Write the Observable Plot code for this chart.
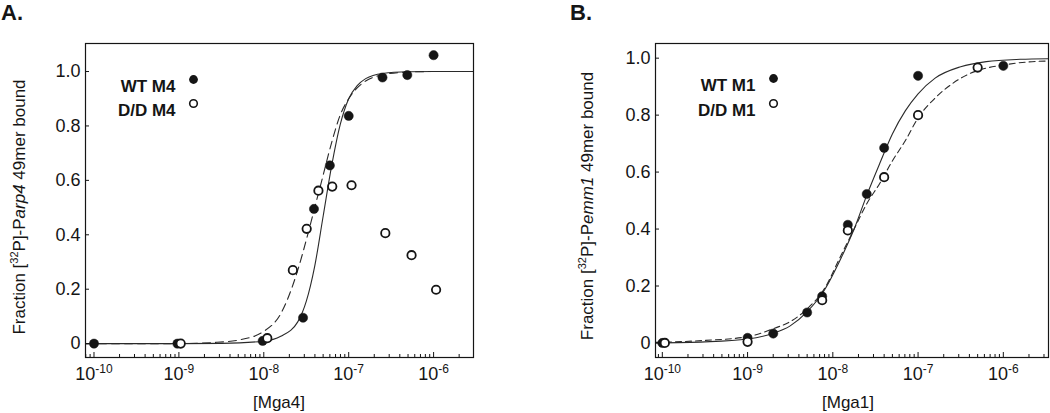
<!DOCTYPE html>
<html><head><meta charset="utf-8">
<script src="https://cdn.jsdelivr.net/npm/d3@7"></script>
<script src="https://cdn.jsdelivr.net/npm/@observablehq/plot@0.6"></script>
<style>
body{margin:0;background:#fff;font-family:"Liberation Sans",Arial,sans-serif;}
#fig{position:relative;width:1050px;height:413px;overflow:hidden;background:#fff;}
.panel{position:absolute;top:0;}
</style></head><body>
<div id="fig"></div>
<script>
// ---------- Panel A data ([Mga4], molar) ----------
const wtA_x = [1e-10, 0.96e-9, 0.97e-8, 2.9e-8, 3.9e-8, 6e-8, 1e-7, 2.5e-7, 4.9e-7, 1e-6];
const wtA_y = [0, 0, 0.01, 0.095, 0.495, 0.655, 0.837, 0.978, 0.987, 1.06];
const ddA_x = [1.05e-9, 1.1e-8, 2.2e-8, 3.2e-8, 4.4e-8, 6.4e-8, 1.08e-7, 2.7e-7, 5.5e-7, 1.07e-6];
const ddA_y = [0, 0.02, 0.27, 0.422, 0.562, 0.577, 0.582, 0.406, 0.325, 0.198];
// fitted curves (log10 concentration, fraction bound)
const solidA_e = [-10.1, -9, -8.5, -8, -7.8, -7.6, -7.5, -7.4, -7.3, -7.2, -7.1, -7.0, -6.9, -6.8, -6.6, -6.3, -6, -5.53];
const solidA_y = [0, 0, 0.001, 0.009, 0.027, 0.08, 0.155, 0.285, 0.47, 0.655, 0.805, 0.9, 0.948, 0.974, 0.993, 0.999, 1, 1];
const dashA_e = [-10.1, -9, -8.6, -8.3, -8, -7.8, -7.6, -7.5, -7.4, -7.3, -7.2, -7.1, -7.0, -6.9, -6.8, -6.6, -6.3, -6, -5.53];
const dashA_y = [0, 0, 0.004, 0.013, 0.045, 0.11, 0.27, 0.38, 0.5, 0.62, 0.74, 0.84, 0.9, 0.94, 0.965, 0.988, 0.998, 1, 1];

// ---------- Panel B data ([Mga1], molar) ----------
const wtB_x = [1e-10, 1e-9, 2e-9, 5e-9, 7.5e-9, 1.5e-8, 2.5e-8, 4e-8, 1e-7, 1e-6];
const wtB_y = [0, 0.018, 0.033, 0.107, 0.164, 0.415, 0.523, 0.685, 0.938, 0.973];
const ddB_x = [1.07e-10, 1e-9, 7.5e-9, 1.5e-8, 4e-8, 1e-7, 5e-7];
const ddB_y = [0, 0.004, 0.15, 0.395, 0.582, 0.80, 0.967];
const solidB_e = [-10.08, -9.5, -9, -8.7, -8.5, -8.3, -8.1, -7.9, -7.75, -7.6, -7.45, -7.3, -7.15, -7.0, -6.8, -6.5, -6.2, -5.8, -5.47];
const solidB_y = [0.0005, 0.004, 0.014, 0.034, 0.06, 0.11, 0.185, 0.30, 0.40, 0.52, 0.63, 0.735, 0.815, 0.875, 0.93, 0.97, 0.988, 0.996, 0.998];
const dashB_e = [-10.08, -9.5, -9, -8.7, -8.5, -8.3, -8.1, -7.9, -7.75, -7.6, -7.45, -7.3, -7.15, -7.0, -6.8, -6.6, -6.4, -6.2, -6.0, -5.7, -5.47];
const dashB_y = [0.002, 0.009, 0.022, 0.05, 0.075, 0.12, 0.19, 0.31, 0.40, 0.49, 0.56, 0.64, 0.71, 0.79, 0.86, 0.91, 0.945, 0.965, 0.976, 0.987, 0.99];

// ---------- ticks & labels ----------
const majorTicks = [1e-10, 1e-9, 1e-8, 1e-7, 1e-6];
const minorMult = [2, 3, 4, 5, 6, 7, 8, 9];
const minorDecades = [1e-11, 1e-10, 1e-9, 1e-8, 1e-7, 1e-6];
const yTicks = [0, 0.2, 0.4, 0.6, 0.8, 1.0];
const legendA = ["WT M4", "D/D M4"];
const legendB = ["WT M1", "D/D M1"];

const INK = "#151515";
const FONT = '"Liberation Sans", Arial, Helvetica, sans-serif';

function zip(xs, ys) { return xs.map((x, i) => ({x, y: ys[i]})); }
function zipE(es, ys) { return es.map((e, i) => ({x: Math.pow(10, e), y: ys[i]})); }

function panel(o) {
  const W = 525, H = 413, mT = 43, mB = 56;
  const plotH = H - mT - mB;
  const minors = [];
  minorDecades.forEach(d => minorMult.forEach(m => {
    const v = m * d;
    if (v > o.xDom[0] && v < o.xDom[1]) minors.push(v);
  }));
  const chart = Plot.plot({
    width: W, height: H,
    marginTop: mT, marginBottom: mB, marginLeft: o.mL, marginRight: o.mR,
    style: {fontFamily: FONT, fontSize: "17px", color: INK, background: "transparent", overflow: "visible"},
    x: {type: "log", domain: o.xDom, label: null},
    y: {domain: o.yDom, label: null},
    marks: [
      Plot.line(zipE(o.solidE, o.solidY), {x: "x", y: "y", stroke: "#2a2a2a", strokeWidth: 1.1, curve: "monotone-x", clip: true}),
      Plot.line(zipE(o.dashE, o.dashY), {x: "x", y: "y", stroke: "#2a2a2a", strokeWidth: 1.1, strokeDasharray: o.dash, curve: "monotone-x", clip: true}),
      Plot.dot(zip(o.wtX, o.wtY), {x: "x", y: "y", r: 4.6, fill: INK, stroke: INK, strokeWidth: 0.5}),
      Plot.dot(zip(o.ddX, o.ddY), {x: "x", y: "y", r: 4.2, fill: "white", stroke: INK, strokeWidth: 1.8}),
      Plot.tickX(majorTicks, {x: d => d, stroke: INK, strokeWidth: 1, insetTop: plotH - 5}),
      Plot.tickX(minors, {x: d => d, stroke: INK, strokeWidth: 1, insetTop: plotH - 3}),
      Plot.tickY(yTicks, {y: d => d, stroke: INK, strokeWidth: 1, insetRight: (W - o.mL - o.mR) - 4}),
      Plot.frame({stroke: INK, strokeWidth: 1.2}),
      Plot.axisX({ticks: majorTicks, tickSize: 0, tickPadding: 10, tickFormat: d => `10^${Math.round(Math.log10(d))}`, fontSize: 18, fill: INK}),
      Plot.axisY({ticks: yTicks, tickSize: 0, tickPadding: 5, tickFormat: d => d === 0 ? "0" : d.toFixed(1), fontSize: 18, fill: INK}),
      Plot.text([o.legend[0]], {frameAnchor: "top-left", dx: o.legTextDx, dy: o.legDy1, text: d => d, textAnchor: "end", fontWeight: "bold", fontSize: 17, fill: INK}),
      Plot.text([o.legend[1]], {frameAnchor: "top-left", dx: o.legTextDx, dy: o.legDy2, text: d => d, textAnchor: "end", fontWeight: "bold", fontSize: 17, fill: INK}),
      Plot.dot([o.legend[0]], {frameAnchor: "top-left", dx: o.legDotDx, dy: o.legDy1, r: 4.4, fill: INK}),
      Plot.dot([o.legend[1]], {frameAnchor: "top-left", dx: o.legDotDx, dy: o.legDy2, r: 3.8, fill: "white", stroke: INK, strokeWidth: 1.6})
    ]
  });
  const svg = d3.select(chart);
  // superscript exponents on x tick labels
  svg.selectAll('g[aria-label="x-axis tick label"] text').each(function() {
    const t = d3.select(this);
    const [b, e] = t.text().split("^");
    t.text(null);
    t.append("tspan").text(b);
    t.append("tspan").attr("dy", -7).attr("font-size", 12).text(e);
  });
  // y-axis title with superscript and italics
  const yl = svg.append("text")
    .attr("transform", `translate(${o.yLabX},${o.yLabY}) rotate(-90)`)
    .attr("text-anchor", "middle").attr("font-size", 17).attr("fill", INK).attr("font-family", FONT);
  yl.append("tspan").text("Fraction [");
  yl.append("tspan").attr("dy", -7).attr("font-size", 11).text("32");
  yl.append("tspan").attr("dy", 7).text("P]-P");
  yl.append("tspan").attr("font-style", "italic").text(o.yItalic);
  yl.append("tspan").text(" 49mer bound");
  // x-axis title
  svg.append("text").attr("x", o.xLabX).attr("y", 408).attr("text-anchor", "middle")
    .attr("font-size", 17).attr("fill", INK).attr("font-family", FONT).text(o.xLabel);
  // panel letter
  svg.append("text").attr("x", o.letterX).attr("y", 20).attr("text-anchor", "start")
    .attr("font-size", 22).attr("font-weight", "bold")
    .attr("fill", INK).attr("font-family", FONT).text(o.letter);
  const div = document.createElement("div");
  div.className = "panel";
  div.style.left = o.left + "px";
  div.appendChild(chart);
  document.getElementById("fig").appendChild(div);
}

panel({
  left: 0, mL: 85, mR: 52,
  xDom: [Math.pow(10, -10.1), Math.pow(10, -5.53)], yDom: [-0.051, 1.103],
  wtX: wtA_x, wtY: wtA_y, ddX: ddA_x, ddY: ddA_y,
  solidE: solidA_e, solidY: solidA_y, dashE: dashA_e, dashY: dashA_y, dash: "8,5",
  legend: legendA, legTextDx: 90, legDotDx: 108, legDy1: 36, legDy2: 60,
  yItalic: "arp4", yLabX: 25, yLabY: 207, xLabel: "[Mga4]", xLabX: 279,
  letter: "A.", letterX: 1
});
panel({
  left: 525, mL: 130, mR: 2,
  xDom: [Math.pow(10, -10.08), Math.pow(10, -5.47)], yDom: [-0.051, 1.0515],
  wtX: wtB_x, wtY: wtB_y, ddX: ddB_x, ddY: ddB_y,
  solidE: solidB_e, solidY: solidB_y, dashE: dashB_e, dashY: dashB_y, dash: "6,4",
  legend: legendB, legTextDx: 100, legDotDx: 118, legDy1: 35, legDy2: 60,
  yItalic: "emm1", yLabX: 68, yLabY: 206, xLabel: "[Mga1]", xLabX: 323,
  letter: "B.", letterX: 45
});
</script>
</body></html>
